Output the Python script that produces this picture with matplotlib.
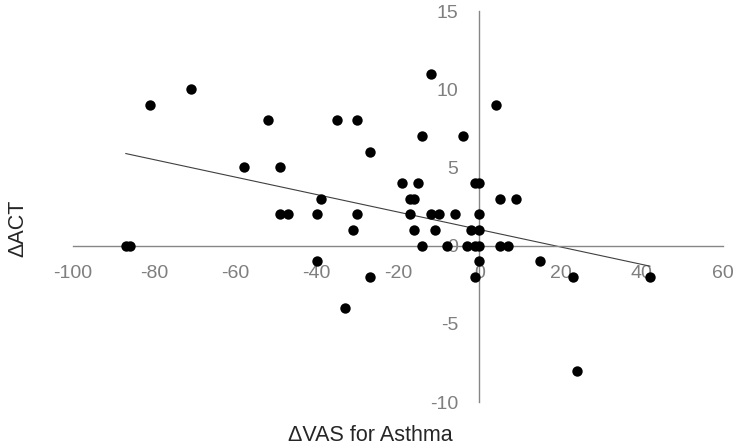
import numpy as np
import matplotlib
matplotlib.use("Agg")
import matplotlib.pyplot as plt

plt.rcParams['font.family'] = ['Liberation Sans', 'DejaVu Sans']

# change in VAS for asthma vs change in ACT
delta_vas = [-87, -86, -81, -71, -58, -52, -49, -49, -47, -40, -40, -39, -35, -33,
             -31, -30, -30, -27, -27, -19, -17, -16, -17, -16, -15, -14, -14, -12,
             -12, -10, -11, -8, -6, -4, -3, -2, -1, -1, -1, 0, 0, 0, 0, 0,
             4, 5, 5, 7, 9, 15, 23, 24, 42]
delta_act = [0, 0, 9, 10, 5, 8, 5, 2, 2, 2, -1, 3, 8, -4,
             1, 8, 2, 6, -2, 4, 3, 3, 2, 1, 4, 7, 0, 11,
             2, 2, 1, 0, 2, 7, 0, 1, 0, 4, -2, 4, 2, 1, 0, -1,
             9, 3, 0, 0, 3, -1, -2, -8, -2]

# linear trendline as drawn in the chart
trend_slope = -0.0558
trend_intercept = 1.03

x_ticks = [-100, -80, -60, -40, -20, 0, 20, 40, 60]
y_ticks = [-10, -5, 0, 5, 10, 15]

axis_grey = '#868686'
label_grey = '#7f7f7f'

fig = plt.figure(figsize=(7.34, 4.48), dpi=100)
ax = fig.add_axes([73/734, 46/448, 650/734, 391/448])

x = np.array(delta_vas, dtype=float)
y = np.array(delta_act, dtype=float)
ax.scatter(x, y, s=56, color='black', zorder=3, linewidths=0)

xl = np.array([x.min(), x.max()])
ax.plot(xl, trend_slope * xl + trend_intercept, color='#404040', lw=0.8, zorder=2)

ax.set_xlim(-100, 60)
ax.set_ylim(-10, 15)

for side in ['top', 'right']:
    ax.spines[side].set_visible(False)
ax.spines['left'].set_position(('data', 0))
ax.spines['bottom'].set_position(('data', 0))
ax.spines['left'].set_color(axis_grey)
ax.spines['bottom'].set_color(axis_grey)
ax.spines['left'].set_linewidth(1)
ax.spines['bottom'].set_linewidth(1)

ax.set_xticks(x_ticks)
ax.set_yticks(y_ticks)
ax.set_xticklabels([str(t) for t in x_ticks])
ax.set_yticklabels([str(t) for t in y_ticks])
ax.tick_params(axis='both', length=0, labelsize=14, labelcolor=label_grey)
ax.tick_params(axis='x', pad=14)
ax.tick_params(axis='y', pad=15)

fig.text(0.025, 0.49, '\u0394ACT', rotation=90, ha='center', va='center',
         fontsize=15.5, color='#262626')
fig.text(0.505, 0.028, '\u0394VAS for Asthma', ha='center', va='center',
         fontsize=15.5, color='#262626')

fig.savefig('out.png', dpi=100)
